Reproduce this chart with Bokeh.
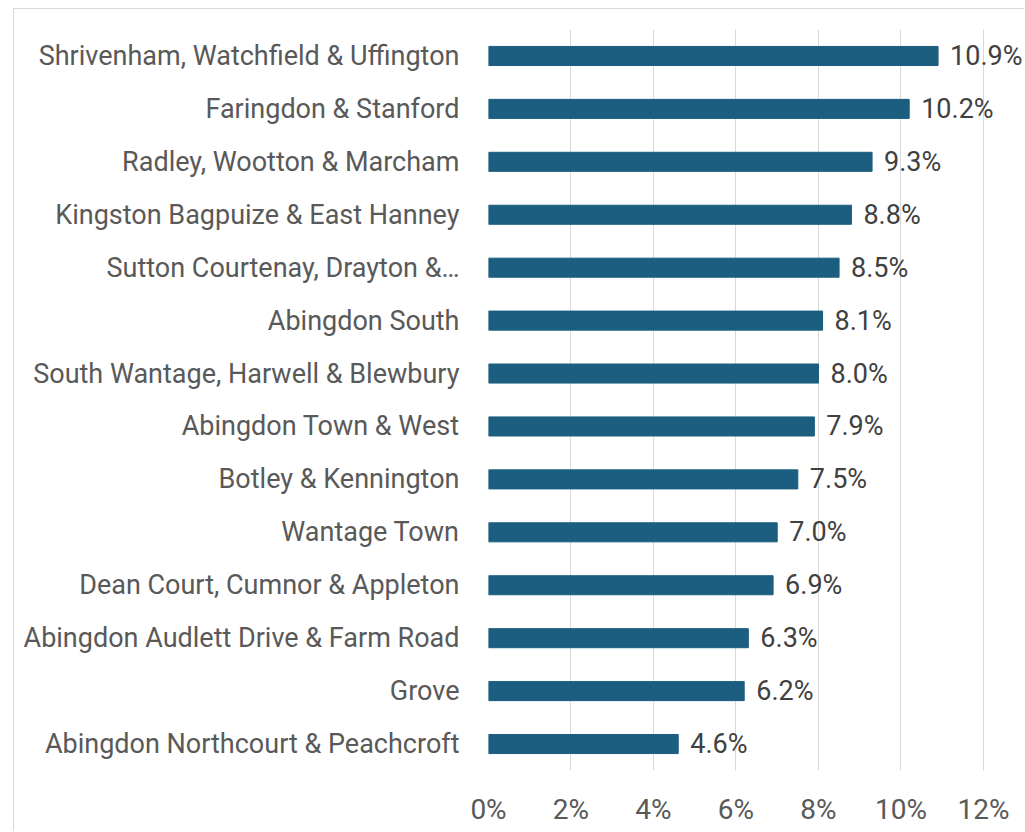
from bokeh.plotting import figure
from bokeh.models import ColumnDataSource, FixedTicker, Range1d, FactorRange
from bokeh.core.properties import value
from bokeh.embed import file_html
from bokeh.resources import INLINE

areas = [
    "Shrivenham, Watchfield & Uffington",
    "Faringdon & Stanford",
    "Radley, Wootton & Marcham",
    "Kingston Bagpuize & East Hanney",
    "Sutton Courtenay, Drayton &…",
    "Abingdon South",
    "South Wantage, Harwell & Blewbury",
    "Abingdon Town & West",
    "Botley & Kennington",
    "Wantage Town",
    "Dean Court, Cumnor & Appleton",
    "Abingdon Audlett Drive & Farm Road",
    "Grove",
    "Abingdon Northcourt & Peachcroft",
]
pct = [10.9, 10.2, 9.3, 8.8, 8.5, 8.1, 8.0, 7.9, 7.5, 7.0, 6.9, 6.3, 6.2, 4.6]
tick_values = [0, 2, 4, 6, 8, 10, 12]
tick_labels = ["0%", "2%", "4%", "6%", "8%", "10%", "12%"]

FONT = "Roboto"
BAR = "#1b5e80"

src = ColumnDataSource(dict(area=areas, pct=pct, lab=[f"{v:.1f}%" for v in pct]))

p = figure(
    width=1011, height=823,
    y_range=FactorRange(factors=list(reversed(areas)), range_padding=0),
    x_range=Range1d(0, 13.02),
    output_backend="svg", toolbar_location=None,
    min_border_left=474, min_border_right=0, min_border_top=20, min_border_bottom=62,
)
p.margin = (8, 0, 0, 13)
p.styles = {"border-left": "1px solid #d9d9d9", "border-top": "1px solid #d9d9d9"}
p.outline_line_color = None
p.background_fill_color = "white"
p.border_fill_color = "white"

p.hbar(y="area", right="pct", height=0.36, source=src, fill_color=BAR, line_color=BAR)
p.text(x="pct", y="area", text="lab", source=src, x_offset=12,
       text_font=value(FONT), text_font_size="27px", text_color="#404040",
       text_baseline="middle", text_align="left")

p.xaxis.ticker = FixedTicker(ticks=tick_values)
p.xaxis.major_label_overrides = {v: l for v, l in zip(tick_values, tick_labels)}
for ax in (p.xaxis[0], p.yaxis[0]):
    ax.axis_line_color = None
    ax.major_tick_line_color = None
    ax.minor_tick_line_color = None
    ax.major_tick_out = 0
    ax.major_tick_in = 0
    ax.major_label_text_font = FONT
    ax.major_label_text_color = "#595959"
p.yaxis.major_label_text_font_size = "27px"
p.xaxis.major_label_text_font_size = "28px"
p.xaxis.major_label_standoff = 22
p.yaxis.major_label_standoff = 29

p.xgrid.grid_line_color = "#d9d9d9"
p.ygrid.grid_line_color = None

open("out.html", "w").write(file_html(p, INLINE))
